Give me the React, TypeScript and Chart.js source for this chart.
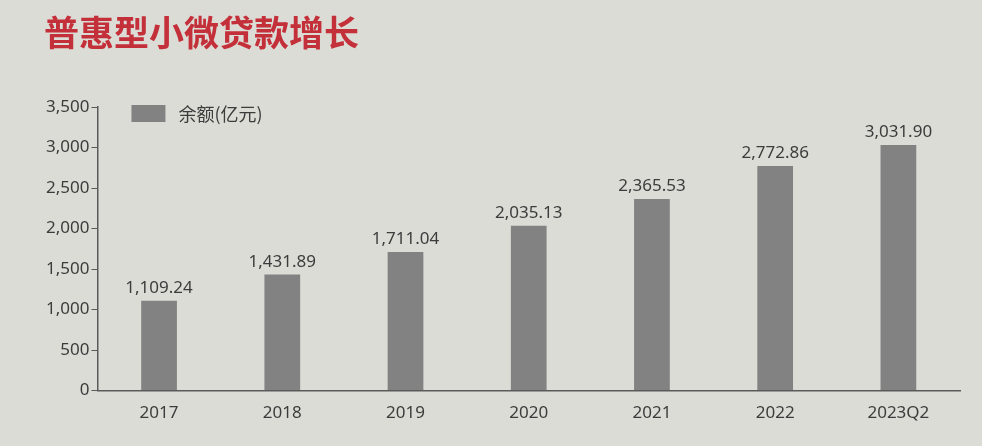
import React, { useEffect, useRef } from "react";
import { Chart, registerables } from "chart.js";

Chart.register(...registerables);

const TITLE = "普惠型小微贷款增长";
const SERIES_NAME = "余额(亿元)";
const categories = ["2017", "2018", "2019", "2020", "2021", "2022", "2023Q2"];
const balances = [1109.24, 1431.89, 1711.04, 2035.13, 2365.53, 2772.86, 3031.9];
const Y_MIN = 0;
const Y_MAX = 3500;
const Y_STEP = 500;

const BG = "#dcdcd6";
const BAR = "#828282";
const TEXT = "#3c3c3c";
const AXIS = "#5a5a5a";
const NUM_FONT = "'Liberation Sans Narrow', 'Noto Sans', sans-serif";
const CJK_FONT = "'Noto Sans CJK SC', sans-serif";

const fmt = (v: number) =>
  v.toLocaleString("en-US", { minimumFractionDigits: 2, maximumFractionDigits: 2 });

const overlayPlugin = {
  id: "overlay",
  afterDatasetsDraw(chart: any) {
    const { ctx, chartArea } = chart;
    const meta = chart.getDatasetMeta(0);
    ctx.save();
    // data labels
    ctx.fillStyle = TEXT;
    ctx.font = `17px ${NUM_FONT}`;
    ctx.textAlign = "center";
    ctx.textBaseline = "bottom";
    meta.data.forEach((bar: any, i: number) => {
      ctx.fillText(fmt(balances[i]), bar.x, bar.y - 4);
    });
    // legend
    const lx = chartArea.left + 34;
    const ly = chartArea.top;
    ctx.fillStyle = BAR;
    ctx.fillRect(lx, ly - 2, 34, 17);
    ctx.fillStyle = TEXT;
    ctx.font = `18px ${CJK_FONT}`;
    ctx.textAlign = "left";
    ctx.textBaseline = "middle";
    ctx.fillText(SERIES_NAME, lx + 47, ly + 7);
    ctx.restore();
  },
};

export default function App() {
  const ref = useRef<HTMLCanvasElement | null>(null);
  useEffect(() => {
    if (!ref.current) return;
    const chart = new Chart(ref.current, {
      type: "bar",
      data: {
        labels: categories,
        datasets: [
          {
            label: SERIES_NAME,
            data: balances,
            backgroundColor: BAR,
            categoryPercentage: 1,
            barPercentage: 0.29,
          },
        ],
      },
      options: {
        animation: false,
        responsive: true,
        maintainAspectRatio: false,
        layout: { padding: { left: 44, right: 22, top: 0, bottom: 11 } },
        plugins: {
          legend: { display: false },
          tooltip: { enabled: false },
          title: {
            display: true,
            text: TITLE,
            align: "start",
            color: "#c4303a",
            font: { family: CJK_FONT, size: 35, weight: "bold" },
            padding: { top: 12, bottom: 53 },
          },
        },
        scales: {
          x: {
            grid: { display: true, drawOnChartArea: false, drawTicks: false },
            border: { display: true, color: AXIS, width: 1.5 },
            ticks: {
              color: TEXT,
              font: { family: NUM_FONT, size: 17 },
              padding: 12,
            },
          },
          y: {
            min: Y_MIN,
            max: Y_MAX,
            grid: {
              display: true,
              drawOnChartArea: false,
              drawTicks: true,
              tickLength: 6,
              color: AXIS,
            },
            border: { display: true, color: AXIS, width: 1.5 },
            ticks: {
              stepSize: Y_STEP,
              color: TEXT,
              font: { family: NUM_FONT, size: 17 },
              padding: 2,
              callback: (v: any) => Number(v).toLocaleString("en-US"),
            },
          },
        },
      },
      plugins: [overlayPlugin],
    });
    return () => chart.destroy();
  }, []);
  return (
    <div
      style={{
        position: "fixed",
        left: 0,
        top: 0,
        width: 982,
        height: 446,
        background: BG,
      }}
    >
      <canvas ref={ref} />
    </div>
  );
}
